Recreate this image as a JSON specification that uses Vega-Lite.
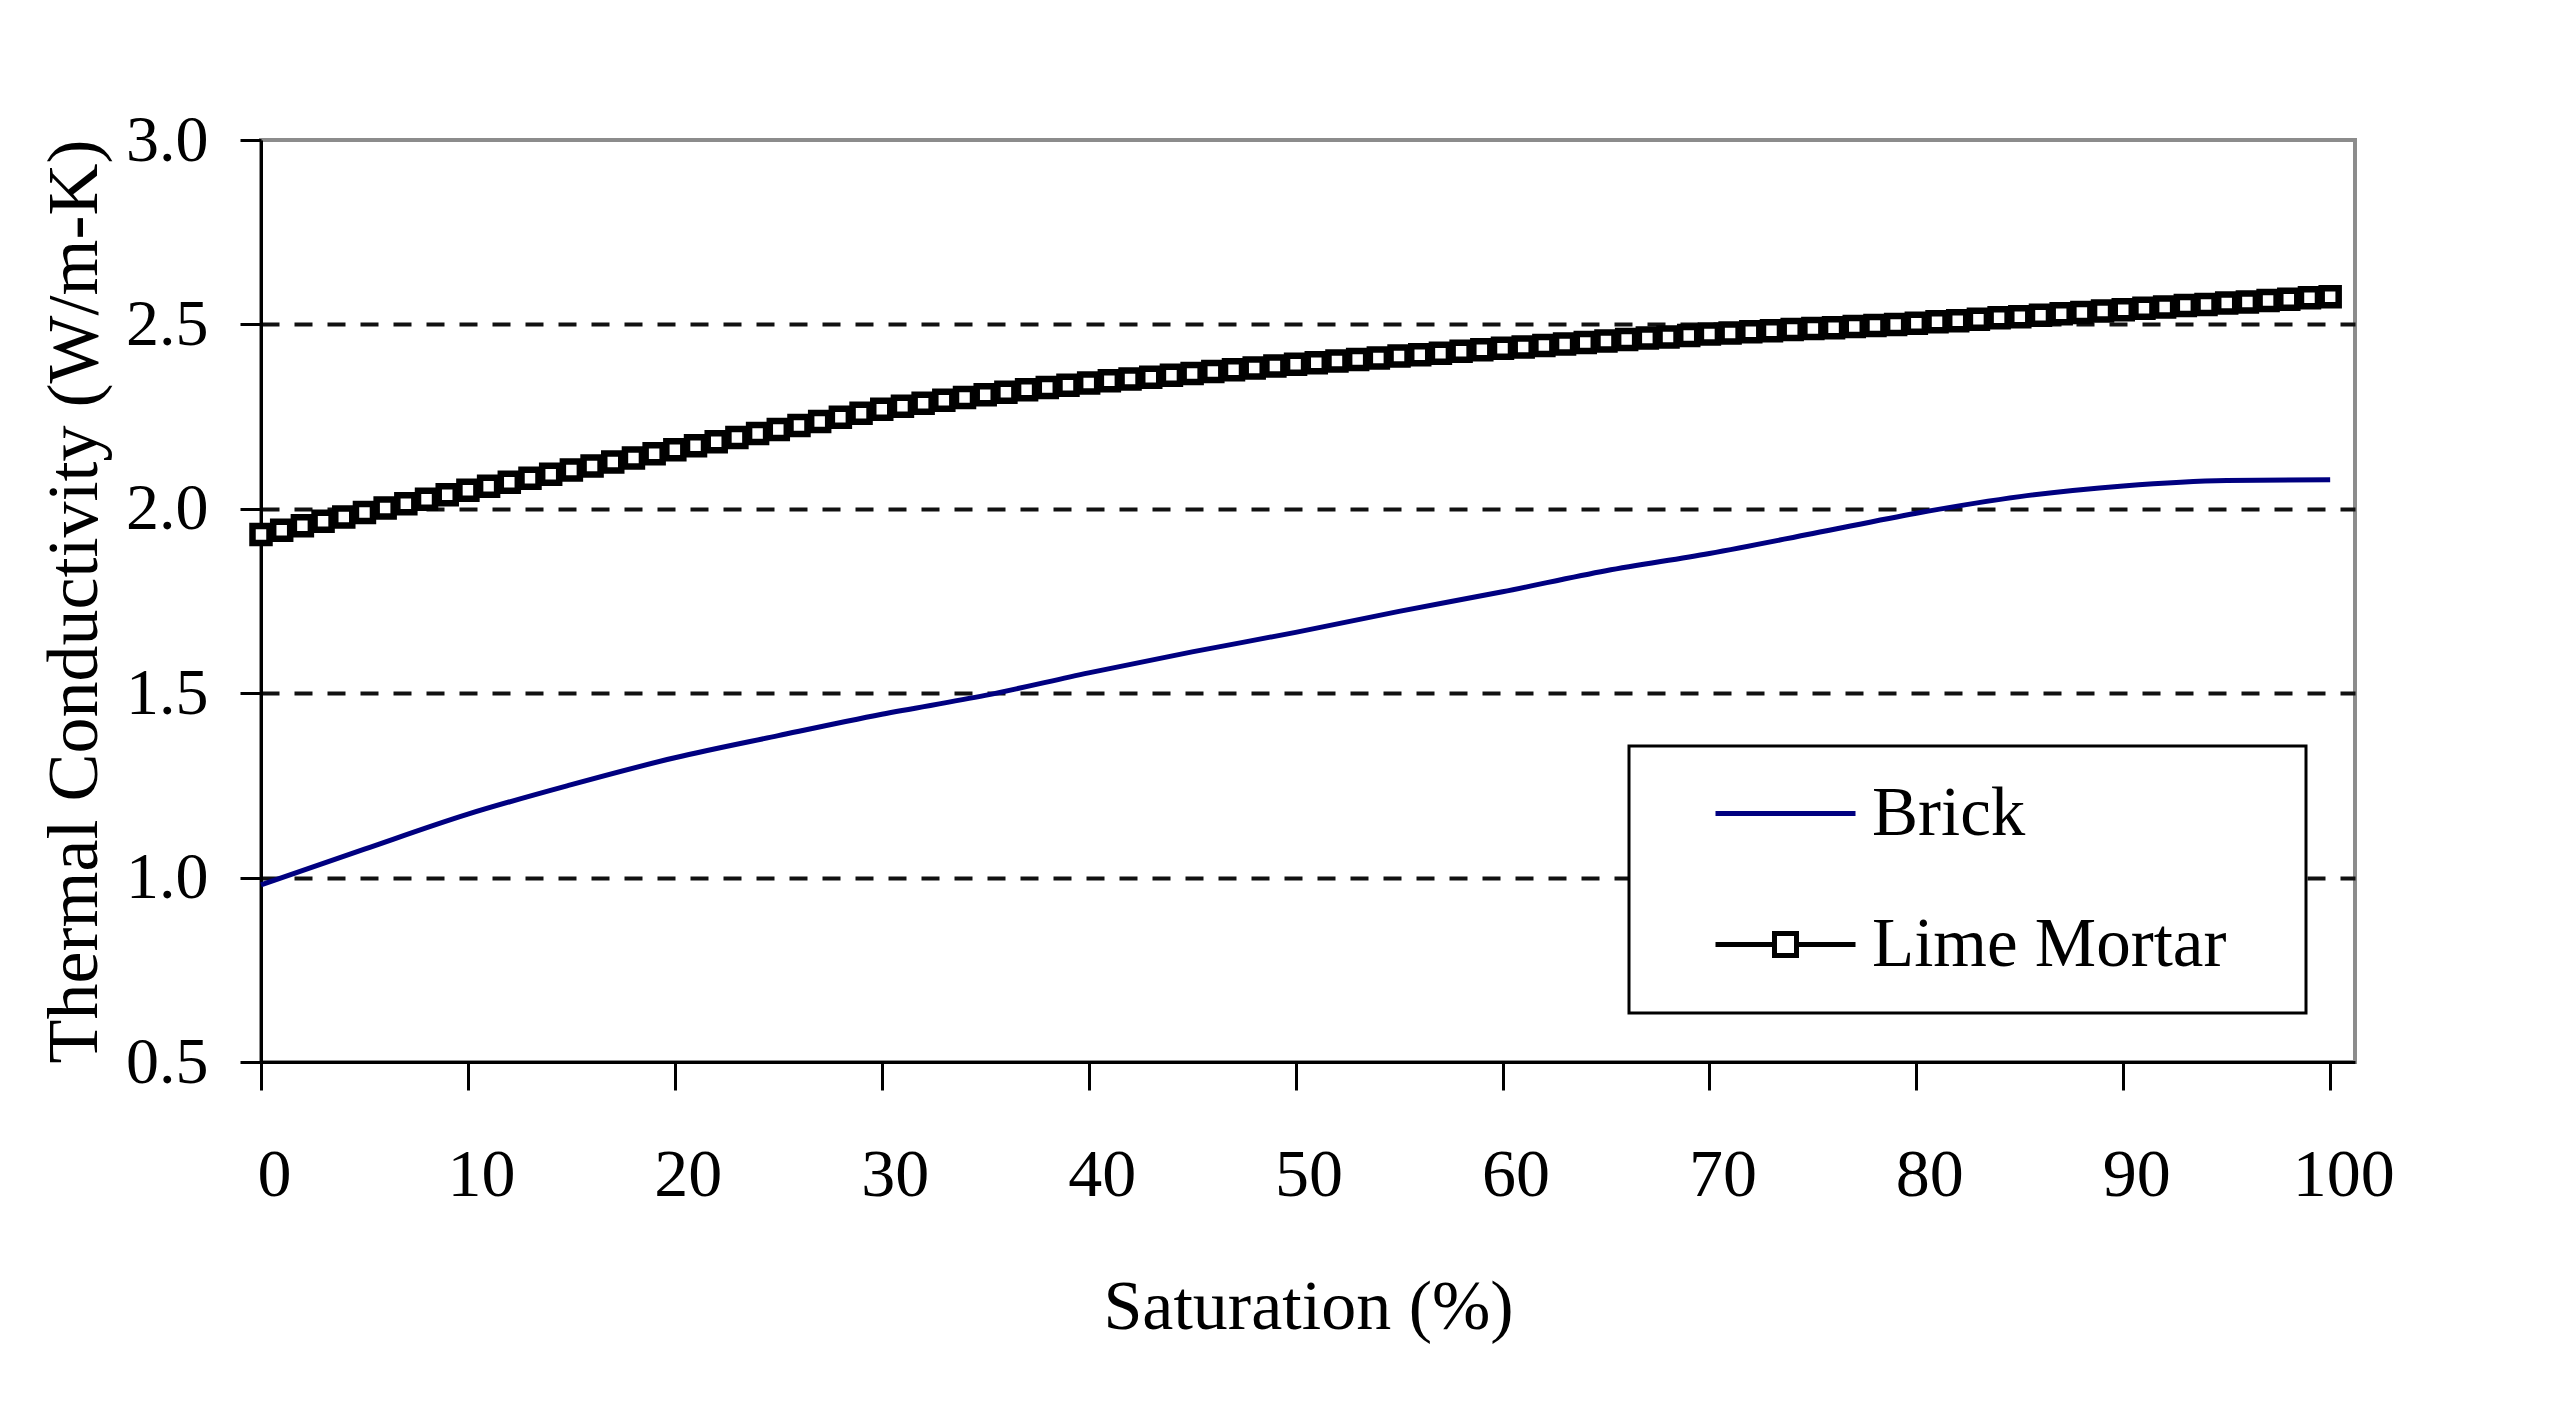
{
  "$schema": "https://vega.github.io/schema/vega-lite/v6.json",
  "autosize": {"type": "none"},
  "width": 2094,
  "height": 922,
  "padding": {"left": 261, "top": 140, "right": 197, "bottom": 350},
  "background": "white",
  "config": {
    "view": {"stroke": "#8c8c8c", "strokeWidth": 4},
    "font": "Liberation Serif"
  },
  "data": {
    "values": [
      {"s": "Brick", "x": 0, "y": 0.98},
      {"s": "Brick", "x": 5, "y": 1.077},
      {"s": "Brick", "x": 10, "y": 1.172},
      {"s": "Brick", "x": 15, "y": 1.252},
      {"s": "Brick", "x": 20, "y": 1.325},
      {"s": "Brick", "x": 25, "y": 1.385},
      {"s": "Brick", "x": 30, "y": 1.443},
      {"s": "Brick", "x": 35, "y": 1.494},
      {"s": "Brick", "x": 40, "y": 1.555},
      {"s": "Brick", "x": 45, "y": 1.612},
      {"s": "Brick", "x": 50, "y": 1.665},
      {"s": "Brick", "x": 55, "y": 1.722},
      {"s": "Brick", "x": 60, "y": 1.775},
      {"s": "Brick", "x": 65, "y": 1.832},
      {"s": "Brick", "x": 70, "y": 1.879},
      {"s": "Brick", "x": 75, "y": 1.933},
      {"s": "Brick", "x": 80, "y": 1.988},
      {"s": "Brick", "x": 85, "y": 2.033},
      {"s": "Brick", "x": 90, "y": 2.062},
      {"s": "Brick", "x": 95, "y": 2.077},
      {"s": "Brick", "x": 100, "y": 2.079},
      {"s": "Lime Mortar", "x": 0, "y": 1.93},
      {"s": "Lime Mortar", "x": 1, "y": 1.942},
      {"s": "Lime Mortar", "x": 2, "y": 1.954},
      {"s": "Lime Mortar", "x": 3, "y": 1.966},
      {"s": "Lime Mortar", "x": 4, "y": 1.978},
      {"s": "Lime Mortar", "x": 5, "y": 1.99},
      {"s": "Lime Mortar", "x": 6, "y": 2.002},
      {"s": "Lime Mortar", "x": 7, "y": 2.014},
      {"s": "Lime Mortar", "x": 8, "y": 2.026},
      {"s": "Lime Mortar", "x": 9, "y": 2.038},
      {"s": "Lime Mortar", "x": 10, "y": 2.05},
      {"s": "Lime Mortar", "x": 11, "y": 2.061},
      {"s": "Lime Mortar", "x": 12, "y": 2.072},
      {"s": "Lime Mortar", "x": 13, "y": 2.083},
      {"s": "Lime Mortar", "x": 14, "y": 2.094},
      {"s": "Lime Mortar", "x": 15, "y": 2.105},
      {"s": "Lime Mortar", "x": 16, "y": 2.116},
      {"s": "Lime Mortar", "x": 17, "y": 2.127},
      {"s": "Lime Mortar", "x": 18, "y": 2.138},
      {"s": "Lime Mortar", "x": 19, "y": 2.149},
      {"s": "Lime Mortar", "x": 20, "y": 2.16},
      {"s": "Lime Mortar", "x": 21, "y": 2.171},
      {"s": "Lime Mortar", "x": 22, "y": 2.182},
      {"s": "Lime Mortar", "x": 23, "y": 2.193},
      {"s": "Lime Mortar", "x": 24, "y": 2.204},
      {"s": "Lime Mortar", "x": 25, "y": 2.215},
      {"s": "Lime Mortar", "x": 26, "y": 2.226},
      {"s": "Lime Mortar", "x": 27, "y": 2.237},
      {"s": "Lime Mortar", "x": 28, "y": 2.248},
      {"s": "Lime Mortar", "x": 29, "y": 2.259},
      {"s": "Lime Mortar", "x": 30, "y": 2.27},
      {"s": "Lime Mortar", "x": 31, "y": 2.278},
      {"s": "Lime Mortar", "x": 32, "y": 2.286},
      {"s": "Lime Mortar", "x": 33, "y": 2.294},
      {"s": "Lime Mortar", "x": 34, "y": 2.302},
      {"s": "Lime Mortar", "x": 35, "y": 2.309},
      {"s": "Lime Mortar", "x": 36, "y": 2.316},
      {"s": "Lime Mortar", "x": 37, "y": 2.323},
      {"s": "Lime Mortar", "x": 38, "y": 2.329},
      {"s": "Lime Mortar", "x": 39, "y": 2.335},
      {"s": "Lime Mortar", "x": 40, "y": 2.341},
      {"s": "Lime Mortar", "x": 41, "y": 2.347},
      {"s": "Lime Mortar", "x": 42, "y": 2.352},
      {"s": "Lime Mortar", "x": 43, "y": 2.357},
      {"s": "Lime Mortar", "x": 44, "y": 2.362},
      {"s": "Lime Mortar", "x": 45, "y": 2.367},
      {"s": "Lime Mortar", "x": 46, "y": 2.372},
      {"s": "Lime Mortar", "x": 47, "y": 2.377},
      {"s": "Lime Mortar", "x": 48, "y": 2.382},
      {"s": "Lime Mortar", "x": 49, "y": 2.387},
      {"s": "Lime Mortar", "x": 50, "y": 2.392},
      {"s": "Lime Mortar", "x": 51, "y": 2.396},
      {"s": "Lime Mortar", "x": 52, "y": 2.401},
      {"s": "Lime Mortar", "x": 53, "y": 2.405},
      {"s": "Lime Mortar", "x": 54, "y": 2.409},
      {"s": "Lime Mortar", "x": 55, "y": 2.414},
      {"s": "Lime Mortar", "x": 56, "y": 2.418},
      {"s": "Lime Mortar", "x": 57, "y": 2.422},
      {"s": "Lime Mortar", "x": 58, "y": 2.427},
      {"s": "Lime Mortar", "x": 59, "y": 2.431},
      {"s": "Lime Mortar", "x": 60, "y": 2.435},
      {"s": "Lime Mortar", "x": 61, "y": 2.439},
      {"s": "Lime Mortar", "x": 62, "y": 2.443},
      {"s": "Lime Mortar", "x": 63, "y": 2.447},
      {"s": "Lime Mortar", "x": 64, "y": 2.451},
      {"s": "Lime Mortar", "x": 65, "y": 2.455},
      {"s": "Lime Mortar", "x": 66, "y": 2.459},
      {"s": "Lime Mortar", "x": 67, "y": 2.463},
      {"s": "Lime Mortar", "x": 68, "y": 2.466},
      {"s": "Lime Mortar", "x": 69, "y": 2.47},
      {"s": "Lime Mortar", "x": 70, "y": 2.474},
      {"s": "Lime Mortar", "x": 71, "y": 2.477},
      {"s": "Lime Mortar", "x": 72, "y": 2.48},
      {"s": "Lime Mortar", "x": 73, "y": 2.483},
      {"s": "Lime Mortar", "x": 74, "y": 2.486},
      {"s": "Lime Mortar", "x": 75, "y": 2.489},
      {"s": "Lime Mortar", "x": 76, "y": 2.491},
      {"s": "Lime Mortar", "x": 77, "y": 2.494},
      {"s": "Lime Mortar", "x": 78, "y": 2.497},
      {"s": "Lime Mortar", "x": 79, "y": 2.5},
      {"s": "Lime Mortar", "x": 80, "y": 2.503},
      {"s": "Lime Mortar", "x": 81, "y": 2.507},
      {"s": "Lime Mortar", "x": 82, "y": 2.51},
      {"s": "Lime Mortar", "x": 83, "y": 2.514},
      {"s": "Lime Mortar", "x": 84, "y": 2.518},
      {"s": "Lime Mortar", "x": 85, "y": 2.521},
      {"s": "Lime Mortar", "x": 86, "y": 2.525},
      {"s": "Lime Mortar", "x": 87, "y": 2.529},
      {"s": "Lime Mortar", "x": 88, "y": 2.532},
      {"s": "Lime Mortar", "x": 89, "y": 2.536},
      {"s": "Lime Mortar", "x": 90, "y": 2.54},
      {"s": "Lime Mortar", "x": 91, "y": 2.544},
      {"s": "Lime Mortar", "x": 92, "y": 2.547},
      {"s": "Lime Mortar", "x": 93, "y": 2.551},
      {"s": "Lime Mortar", "x": 94, "y": 2.554},
      {"s": "Lime Mortar", "x": 95, "y": 2.558},
      {"s": "Lime Mortar", "x": 96, "y": 2.561},
      {"s": "Lime Mortar", "x": 97, "y": 2.565},
      {"s": "Lime Mortar", "x": 98, "y": 2.568},
      {"s": "Lime Mortar", "x": 99, "y": 2.572},
      {"s": "Lime Mortar", "x": 100, "y": 2.575}
    ]
  },
  "layer": [
    {
      "mark": {"type": "line", "strokeWidth": 5, "interpolate": "monotone"},
      "encoding": {
        "x": {
          "field": "x",
          "type": "quantitative",
          "scale": {"domain": [0, 101.2], "nice": false, "zero": false},
          "axis": {
            "title": "Saturation (%)",
            "values": [0, 10, 20, 30, 40, 50, 60, 70, 80, 90, 100],
            "grid": false,
            "domainColor": "black",
            "domainWidth": 3,
            "tickColor": "black",
            "tickWidth": 3,
            "tickSize": 28,
            "labelFont": "Liberation Serif",
            "labelFontSize": 68,
            "labelColor": "black",
            "labelPadding": 51,
            "labelOffset": 13,
            "labelFlush": false,
            "labelOverlap": false,
            "titleFont": "Liberation Serif",
            "titleFontSize": 70,
            "titleFontWeight": "normal",
            "titleColor": "black",
            "titlePadding": 64
          }
        },
        "y": {
          "field": "y",
          "type": "quantitative",
          "scale": {"domain": [0.5, 3.0], "nice": false, "zero": false},
          "axis": {
            "orient": "left",
            "title": "Thermal Conductivity (W/m-K)",
            "values": [0.5, 1.0, 1.5, 2.0, 2.5, 3.0],
            "format": ".1f",
            "grid": false,
            "domainColor": "black",
            "domainWidth": 3,
            "tickColor": "black",
            "tickWidth": 3,
            "tickSize": 21,
            "labelFont": "Liberation Serif",
            "labelFontSize": 66,
            "labelColor": "black",
            "labelPadding": 32,
            "labelFlush": false,
            "labelOverlap": false,
            "titleFont": "Liberation Serif",
            "titleFontSize": 72,
            "titleFontWeight": "normal",
            "titleColor": "black",
            "titlePadding": 14
          }
        },
        "color": {
          "field": "s",
          "type": "nominal",
          "scale": {"domain": ["Brick", "Lime Mortar"], "range": ["#000080", "#000000"]},
          "legend": {
            "title": "\u00a0",
            "titleOrient": "right",
            "titleFontSize": 1,
            "titlePadding": 47,
            "orient": "bottom-right",
            "offset": 49,
            "padding": 33,
            "rowPadding": 61,
            "strokeColor": "black",
            "fillColor": "white",
            "symbolSize": 400,
            "symbolStrokeWidth": 4,
            "symbolOffset": 89,
            "labelOffset": 52,
            "labelFont": "Liberation Serif",
            "labelFontSize": 69,
            "labelColor": "black",
            "labelLimit": 1000,
            "encode": {
              "legend": {
                "update": {
                  "strokeWidth": {"value": 3}
                }
              },
              "symbols": {
                "update": {
                  "shape": {"signal": "datum.value === 'Brick' ? 'M-7,0H7' : 'M-7,0H-1.1M1.1,0H7M-1.1,-1.1H1.1V1.1H-1.1Z'"},
                  "fill": {"value": "white"},
                  "fillOpacity": {"value": 1},
                  "strokeWidth": {"value": 5}
                }
              }
            }
          }
        }
      }
    },
    {
      "transform": [{"filter": "datum.s === 'Lime Mortar'"}],
      "mark": {"type": "point", "shape": "square", "filled": false, "fill": "white", "fillOpacity": 1, "stroke": "black", "strokeWidth": 6.5, "size": 289, "opacity": 1},
      "encoding": {
        "x": {"field": "x", "type": "quantitative"},
        "y": {
          "field": "y",
          "type": "quantitative",
          "axis": {
            "orient": "left",
            "values": [1.0, 1.5, 2.0, 2.5],
            "grid": true,
            "gridColor": "#111111",
            "gridWidth": 4,
            "gridDash": [18, 15],
            "domain": false,
            "ticks": false,
            "labels": false,
            "title": null
          }
        }
      }
    }
  ],
  "resolve": {"axis": {"y": "independent"}}
}
